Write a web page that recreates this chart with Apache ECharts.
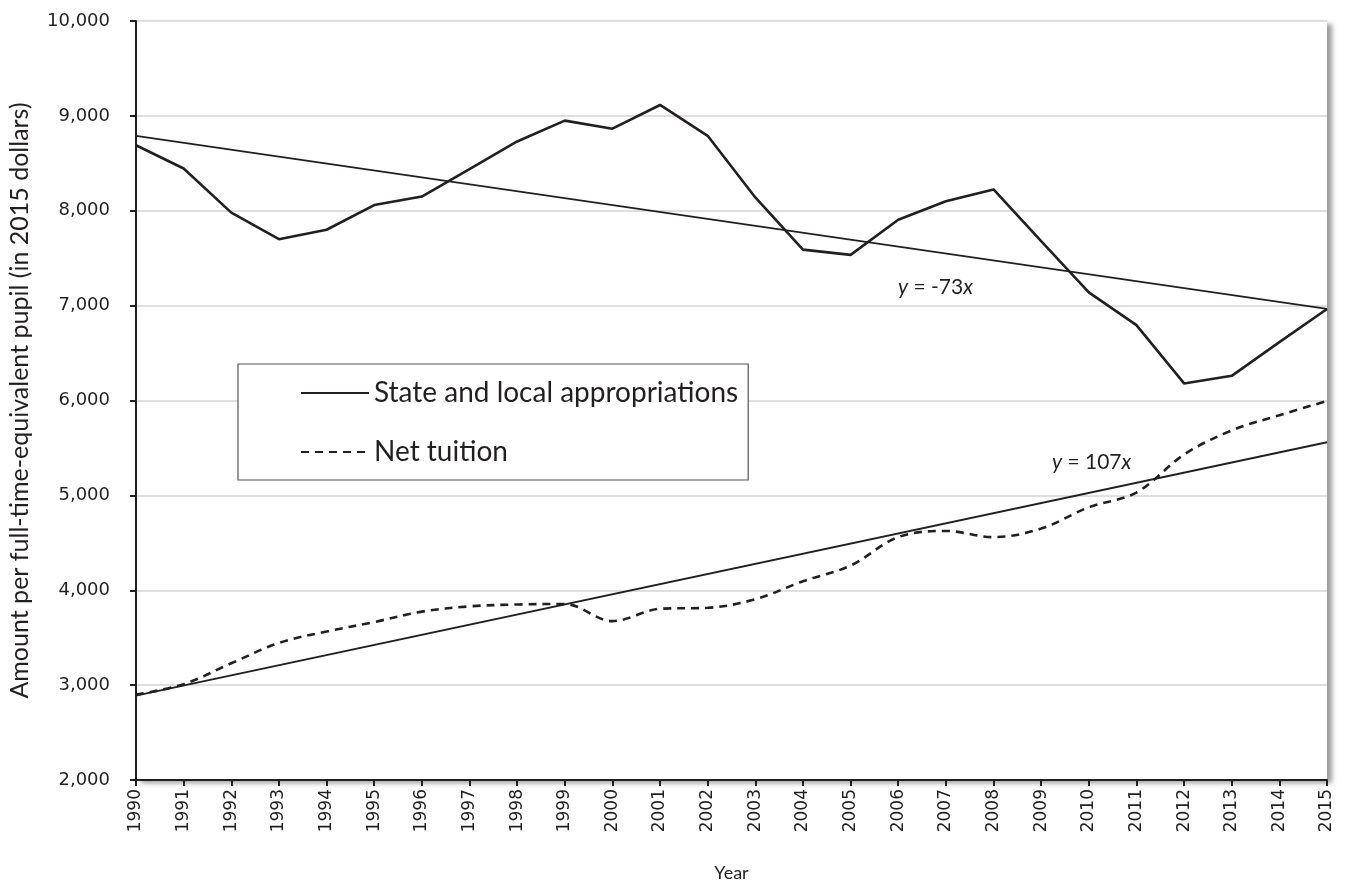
<!DOCTYPE html>
<html>
<head>
<meta charset="utf-8">
<script src="https://cdn.jsdelivr.net/npm/echarts@6/dist/echarts.min.js"></script>
<style>
  html, body { margin: 0; padding: 0; background: #fff; }
  #chart { width: 1346px; height: 882px; }
</style>
</head>
<body>
<div id="chart"></div>
<script>
// years on the x axis
const years = ['1990','1991','1992','1993','1994','1995','1996','1997','1998','1999','2000','2001','2002',
  '2003','2004','2005','2006','2007','2008','2009','2010','2011','2012','2013','2014','2015']

const appropriations = [8690, 8445, 7980, 7700, 7800, 8060, 8150, 8440, 8730, 8950, 8865, 9115, 8790,
  8140, 7590, 7535, 7905, 8100, 8225, 7680, 7140, 6795, 6180, 6260, 6615, 6965]
const netTuition = [2900, 3010, 3230, 3445, 3565, 3665, 3775, 3830, 3850, 3855, 3675, 3805, 3815,
  3905, 4095, 4260, 4560, 4625, 4560, 4650, 4875, 5030, 5430, 5685, 5845, 5995]

// trend lines: value at first and last year
const appropriationsTrend = [8790, 6965]
const tuitionTrend = [2890, 5560]

const yTicks = { min: 2000, max: 10000, step: 1000 }

const ink = '#231f20'
const narrowFont = 'Lato'

function endpoints(pair) {
  const arr = years.map(() => null)
  arr[0] = pair[0]
  arr[arr.length - 1] = pair[1]
  return arr
}

const chart = echarts.init(document.getElementById('chart'))
chart.setOption({
  animation: false,
  grid: {
    left: 136, right: 19, top: 21, bottom: 102,
    outerBoundsMode: 'none',
    containLabel: false,
    show: true,
    backgroundColor: '#fff',
    borderWidth: 0,
    shadowColor: 'rgba(0,0,0,0.4)',
    shadowBlur: 5,
    shadowOffsetX: 5,
    shadowOffsetY: 3
  },
  legend: {
    left: 238,
    top: 364,
    orient: 'vertical',
    padding: [15, 10, 14, 62],
    itemGap: 31,
    itemWidth: 68,
    itemHeight: 14,
    borderColor: '#555',
    borderWidth: 1.2,
    backgroundColor: '#fff',
    itemStyle: { opacity: 0 },
    data: ['State and local appropriations', 'Net tuition'],
    textStyle: { fontFamily: narrowFont, fontSize: 28, color: ink, padding: [0, 0, 0, 0] }
  },
  xAxis: {
    type: 'category',
    data: years,
    boundaryGap: false,
    name: 'Year',
    nameLocation: 'middle',
    nameGap: 84,
    nameTextStyle: { fontFamily: narrowFont, fontSize: 18, color: ink },
    axisLine: { lineStyle: { color: ink, width: 2 } },
    axisTick: { alignWithLabel: true, length: 6, lineStyle: { color: ink, width: 2 } },
    axisLabel: { rotate: 90, fontFamily: 'DejaVu Sans', fontSize: 17, color: ink, margin: 9 },
    splitLine: { show: false }
  },
  yAxis: {
    type: 'value',
    min: yTicks.min,
    max: yTicks.max,
    interval: yTicks.step,
    name: 'Amount per full-time-equivalent pupil (in 2015 dollars)',
    nameLocation: 'middle',
    nameGap: 104,
    nameTextStyle: { fontFamily: narrowFont, fontSize: 25, color: ink },
    axisLine: { show: true, lineStyle: { color: ink, width: 2 } },
    axisTick: { show: true, length: 6, lineStyle: { color: ink, width: 2 } },
    axisLabel: {
      fontFamily: 'DejaVu Sans', fontSize: 18, color: ink, margin: 26,
      formatter: v => v.toLocaleString('en-US')
    },
    splitLine: { lineStyle: { color: '#d4d4d4', width: 1.5 } }
  },
  series: [
    {
      name: 'State and local appropriations',
      type: 'line',
      data: appropriations,
      symbol: 'none',
      lineStyle: { color: ink, width: 2.6 },
      itemStyle: { color: ink },
      z: 3
    },
    {
      name: 'Net tuition',
      type: 'line',
      data: netTuition,
      symbol: 'none',
      smooth: 0.35,
      lineStyle: { color: ink, width: 2.6, type: [8, 6] },
      itemStyle: { color: ink },
      z: 3
    },
    {
      name: 'appropriations trend',
      type: 'line',
      data: endpoints(appropriationsTrend),
      connectNulls: true,
      symbol: 'none',
      silent: true,
      lineStyle: { color: ink, width: 1.8 },
      z: 2
    },
    {
      name: 'tuition trend',
      type: 'line',
      data: endpoints(tuitionTrend),
      connectNulls: true,
      symbol: 'none',
      silent: true,
      lineStyle: { color: ink, width: 1.8 },
      z: 2
    }
  ],
  graphic: [
    {
      type: 'text', left: 898, top: 277,
      style: {
        text: '{i|y} = -73{i|x}',
        font: '21px Lato', fill: ink,
        rich: { i: { fontFamily: narrowFont, fontSize: 21, fontStyle: 'italic', fill: ink } }
      }
    },
    {
      type: 'text', left: 1052, top: 452,
      style: {
        text: '{i|y} = 107{i|x}',
        font: '21px Lato', fill: ink,
        rich: { i: { fontFamily: narrowFont, fontSize: 21, fontStyle: 'italic', fill: ink } }
      }
    }
  ]
})
</script>
</body>
</html>
